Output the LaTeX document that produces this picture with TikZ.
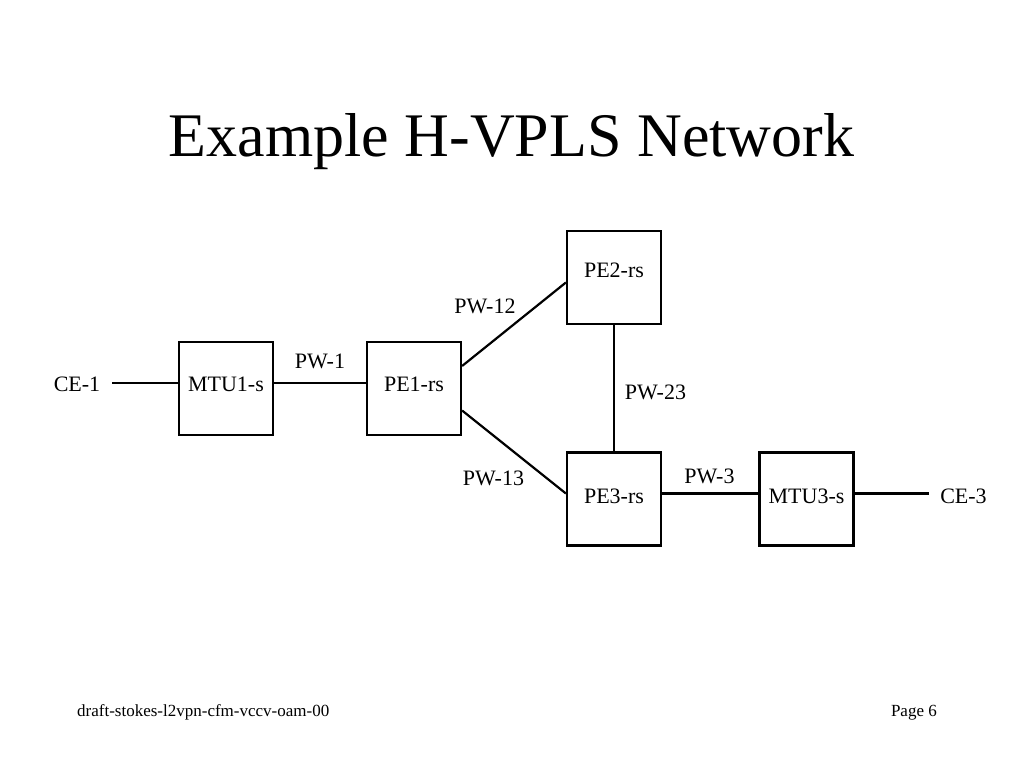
\documentclass[tikz,border=0pt]{standalone}
\usepackage{fontspec}
\setmainfont{Liberation Serif}
\begin{document}
\begin{tikzpicture}[x=1pt,y=-1pt,
  box/.style={draw=black,line width=2.2pt,rectangle,minimum width=94pt,minimum height=93pt,inner sep=0pt,
    font=\fontsize{22}{26}\selectfont,text height=12pt,text depth=6pt},
  lbl/.style={anchor=base,inner sep=0pt,font=\fontsize{22}{26}\selectfont},
  link/.style={draw=black,line width=2.2pt}]
\useasboundingbox (0,0) rectangle (1024,768);
\fill[white] (0,0) rectangle (1024,768);
% title
\node[anchor=base,inner sep=0pt,font=\fontsize{62}{70}\selectfont] (title) at (511.5,156) {Example H-VPLS Network};
% boxes
\node[box] (mtu1) at (226,388.5) {MTU1-s};
\node[box] (pe1) at (414,388.5) {PE1-rs};
\node[box,text height=9pt,text depth=9pt] (pe2) at (614,277.5) {PE2-rs};
\node[box,text height=13pt,text depth=4pt] (pe3) at (614,499) {PE3-rs};
\node[box,text height=13pt,text depth=4pt] (mtu3) at (806.5,499) {MTU3-s};
% end labels
\node[lbl] (ce1) at (77,391) {CE-1};
\node[lbl] (ce3) at (963.5,503) {CE-3};
\coordinate (ce1end) at (112,383);
\coordinate (ce3end) at (929,493.5);
% links
\draw[link] (ce1end) -- ([yshift=5.5pt]mtu1.west);
\draw[link] ([yshift=5.5pt]mtu1.east) -- ([yshift=5.5pt]pe1.west);
\draw[link] ([yshift=22.5pt]pe1.east) -- ([yshift=-5pt]pe2.west);
\draw[link] ([yshift=-22pt]pe1.east) -- ([yshift=5.5pt]pe3.west);
\draw[link] (pe2.south) -- (pe3.north);
\draw[link] ([yshift=5.5pt]pe3.east) -- ([yshift=5.5pt]mtu3.west);
\draw[link] ([yshift=5.5pt]mtu3.east) -- (ce3end);
% link labels
\node[lbl] (pw1) at (320,368) {PW-1};
\node[lbl] (pw12) at (485,313) {PW-12};
\node[lbl] (pw23) at (655.5,399) {PW-23};
\node[lbl] (pw13) at (493.5,485) {PW-13};
\node[lbl] (pw3) at (709.5,483.5) {PW-3};
% footer
\node[anchor=base west,inner sep=0pt,font=\fontsize{17}{20}\selectfont] (foot) at (77,716) {draft-stokes-l2vpn-cfm-vccv-oam-00};
\node[anchor=base east,inner sep=0pt,font=\fontsize{17}{20}\selectfont] (page) at (937,716) {Page 6};
\end{tikzpicture}
\end{document}
